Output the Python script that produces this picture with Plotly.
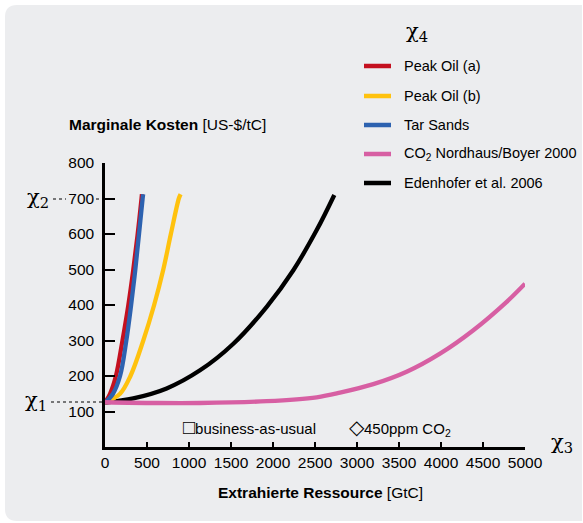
import plotly.graph_objects as go

# Marginal cost curves: extracted resource [GtC] vs. marginal cost [US-$/tC]
peak_oil_a_x = [0, 60, 130, 208, 278, 337, 389, 435, 440]
peak_oil_a_y = [125, 150, 200, 300, 400, 500, 600, 700, 712]

peak_oil_b_x = [0, 179, 303, 456, 585, 694, 784, 879, 900]
peak_oil_b_y = [125, 150, 200, 300, 400, 500, 600, 700, 712]

tar_sands_x = [0, 95, 179, 254, 311, 361, 405, 448, 454]
tar_sands_y = [125, 150, 200, 300, 400, 500, 600, 700, 712]

nordhaus_x = [0, 600, 1131, 1925, 2520, 2798, 3194, 3591, 3988, 4385, 4782, 5000]
nordhaus_y = [126, 124, 124, 129, 140, 153, 177, 212, 263, 329, 409, 460]

edenhofer_x = [0, 337, 734, 1131, 1528, 1925, 2242, 2520, 2730]
edenhofer_y = [125, 137, 165, 216, 291, 395, 498, 611, 710]

series_names = ["Peak Oil (a)", "Peak Oil (b)", "Tar Sands",
                "CO<sub>2</sub> Nordhaus/Boyer 2000", "Edenhofer et al. 2006"]
series_colors = ["#C4101F", "#FFC20E", "#2D62B0", "#D75FA3", "#000000"]

x_ticks = list(range(0, 5001, 500))
y_ticks = list(range(100, 801, 100))

FONT = "Liberation Sans, Arial, sans-serif"
W, H = 583, 523
ML, MR, MT, MB = 105, 58, 163, 76
PW, PH = W - ML - MR, H - MT - MB


def px(x):
    return (x - ML) / PW


def py(y):
    return (H - MB - y) / PH


fig = go.Figure()

data = [
    (edenhofer_x, edenhofer_y, 4),
    (peak_oil_b_x, peak_oil_b_y, 1),
    (peak_oil_a_x, peak_oil_a_y, 0),
    (tar_sands_x, tar_sands_y, 2),
    (nordhaus_x, nordhaus_y, 3),
]
for xs, ys, i in data:
    fig.add_trace(go.Scatter(
        x=xs, y=ys, mode="lines", name=series_names[i],
        line=dict(color=series_colors[i], width=4.3, shape="spline", smoothing=1.0),
        showlegend=False, hoverinfo="skip",
    ))

shapes = []
# rounded background panel
x0, y0, x1, y1, r = 5, 5, 582, 521, 12
path = (f"M {px(x0 + r)},{py(y0)} L {px(x1)},{py(y0)} L {px(x1)},{py(y1)} "
        f"L {px(x0 + r)},{py(y1)} Q {px(x0)},{py(y1)} {px(x0)},{py(y1 - r)} "
        f"L {px(x0)},{py(y0 + r)} Q {px(x0)},{py(y0)} {px(x0 + r)},{py(y0)} Z")
shapes.append(dict(type="path", xref="paper", yref="paper", path=path,
                   fillcolor="#ECEDEF", line=dict(width=0), layer="below"))

# dotted guides to the axis
for (a, b, yy) in [(53, 66, 199), (96, 104, 199), (51, 104, 402)]:
    shapes.append(dict(type="line", xref="paper", yref="paper",
                       x0=px(a), x1=px(b), y0=py(yy), y1=py(yy),
                       line=dict(color="#000", width=1, dash="dot")))

# legend samples
legend_rows = [66, 96, 125, 154, 183]
for i, yy in enumerate(legend_rows):
    shapes.append(dict(type="line", xref="paper", yref="paper",
                       x0=px(364), x1=px(391), y0=py(yy), y1=py(yy),
                       line=dict(color=series_colors[i], width=4.5)))

annotations = []
for i, yy in enumerate(legend_rows):
    annotations.append(dict(xref="paper", yref="paper", x=px(402), y=py(yy),
                            text=series_names[i], showarrow=False,
                            xanchor="left", yanchor="middle",
                            font=dict(family=FONT, size=14.5, color="#000")))

chi_font = dict(family="DejaVu Serif, serif", size=21, color="#000")
for text, xx, yy, anchor in [("χ<sub>4</sub>", 404, 32, "left"),
                             ("χ<sub>2</sub>", 51, 198, "right"),
                             ("χ<sub>1</sub>", 49, 401, "right"),
                             ("χ<sub>3</sub>", 549, 443, "left")]:
    annotations.append(dict(xref="paper", yref="paper", x=px(xx), y=py(yy),
                            text=text, showarrow=False, xanchor=anchor,
                            yanchor="middle", font=chi_font))

annotations.append(dict(xref="paper", yref="paper", x=px(67), y=py(124),
                        text="<b>Marginale Kosten</b> [US-$/tC]", showarrow=False,
                        xanchor="left", yanchor="middle",
                        font=dict(family=FONT, size=15.5, color="#000")))
annotations.append(dict(xref="paper", yref="paper", x=px(320), y=py(492),
                        text="<b>Extrahierte Ressource</b> [GtC]", showarrow=False,
                        xanchor="center", yanchor="middle",
                        font=dict(family=FONT, size=15.5, color="#000")))
annotations.append(dict(xref="paper", yref="paper", x=px(181), y=py(427),
                        text="<span style='font-size:20px'>□</span>business-as-usual",
                        showarrow=False, xanchor="left", yanchor="middle",
                        font=dict(family=FONT, size=15, color="#000")))
annotations.append(dict(xref="paper", yref="paper", x=px(347), y=py(427),
                        text="<span style='font-size:20px'>◇</span>450ppm CO<sub>2</sub>",
                        showarrow=False, xanchor="left", yanchor="middle",
                        font=dict(family=FONT, size=15, color="#000")))

fig.update_layout(
    width=W, height=H,
    margin=dict(l=ML, r=MR, t=MT, b=MB),
    paper_bgcolor="#FFFFFF", plot_bgcolor="rgba(0,0,0,0)",
    font=dict(family=FONT, size=15.5, color="#000"),
    shapes=shapes, annotations=annotations,
    xaxis=dict(range=[0, 5000], tickvals=x_ticks, ticks="inside", ticklen=5,
               tickwidth=1.5, tickcolor="#000", showline=True, linewidth=2.5,
               linecolor="#000", showgrid=False, zeroline=False,
               tickfont=dict(family=FONT, size=15.5)),
    yaxis=dict(range=[0, 800], tickvals=y_ticks, ticks="inside", ticklen=10,
               tickwidth=1.5, tickcolor="#000", showline=True, linewidth=2.5,
               linecolor="#000", showgrid=False, zeroline=False,
               ticklabelstandoff=5, tickfont=dict(family=FONT, size=15.5)),
)

fig.write_html("out.html")
